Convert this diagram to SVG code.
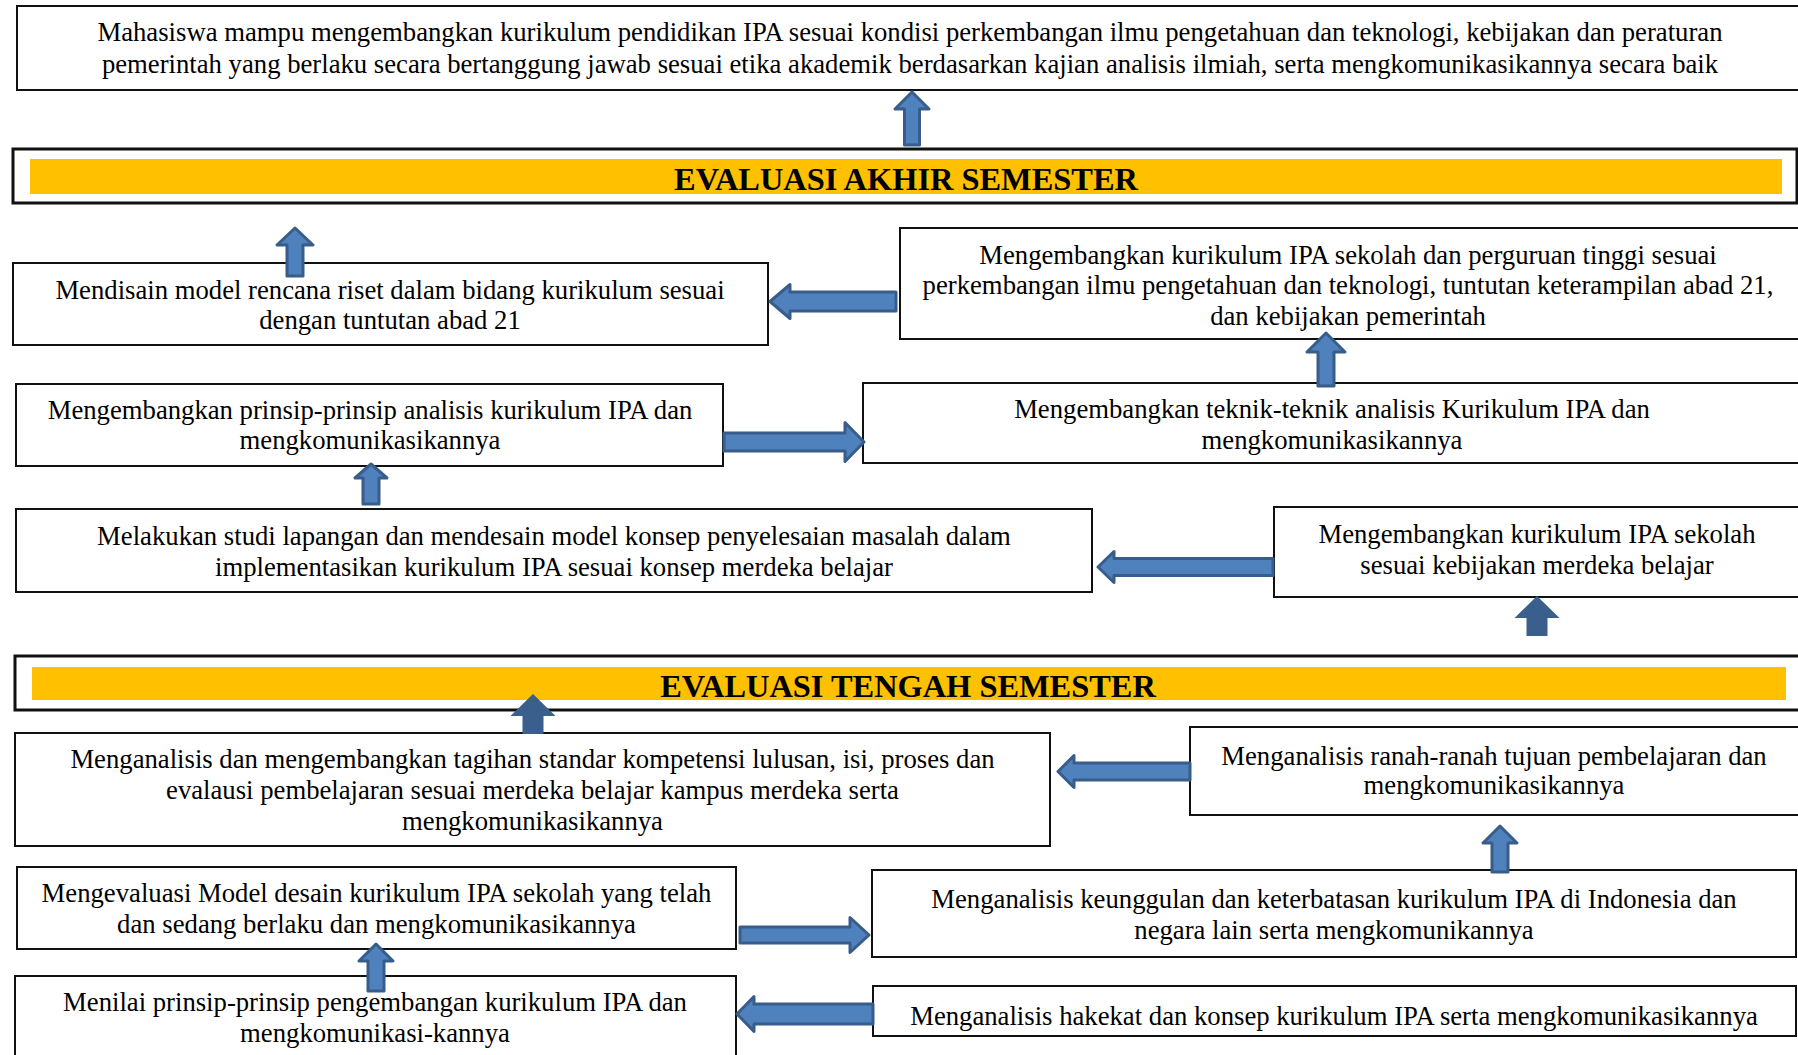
<svg xmlns="http://www.w3.org/2000/svg" width="1798" height="1055" viewBox="0 0 1798 1055">
<style>
.box{fill:#fff;stroke:#111;stroke-width:2}
.ebox{fill:#fff;stroke:#111;stroke-width:3}
.bar{fill:#FFC000}
.t{font-family:"Liberation Serif","Times New Roman",serif;font-size:26.7px;fill:#000;text-anchor:middle}
.h{font-family:"Liberation Serif","Times New Roman",serif;font-size:32.4px;font-weight:bold;fill:#000;text-anchor:middle}
.arr{fill:#4F81BD;stroke:#385D8A;stroke-width:3;stroke-linejoin:round}
.sol{fill:#3A5F8C;stroke:none}
</style>
<rect width="1798" height="1055" fill="#fff"/>

<g id="n-cpl">
<rect class="box" x="17" y="6" width="1800" height="84"/>
<text class="t" x="910" y="40.5">Mahasiswa mampu mengembangkan kurikulum pendidikan IPA sesuai kondisi perkembangan ilmu pengetahuan dan teknologi, kebijakan dan peraturan</text>
<text class="t" x="910" y="72.5">pemerintah yang berlaku secara bertanggung jawab sesuai etika akademik berdasarkan kajian analisis ilmiah, serta mengkomunikasikannya secara baik</text>
</g>

<g id="n-uas">
<rect class="ebox" x="13" y="149" width="1784" height="54"/>
<rect class="bar" x="30" y="159" width="1752" height="35"/>
<text class="h" x="906" y="190">EVALUASI AKHIR SEMESTER</text>
</g>

<g id="n-mendisain">
<rect class="box" x="13" y="263" width="755" height="82"/>
<text class="t" x="390" y="298.5">Mendisain model rencana riset dalam bidang kurikulum sesuai</text>
<text class="t" x="390" y="329">dengan tuntutan abad 21</text>
</g>

<g id="n-kurikulum-pt">
<rect class="box" x="900" y="228" width="920" height="111"/>
<text class="t" x="1348" y="263.5">Mengembangkan kurikulum IPA sekolah dan perguruan tinggi sesuai</text>
<text class="t" x="1348" y="294">perkembangan ilmu pengetahuan dan teknologi, tuntutan keterampilan abad 21,</text>
<text class="t" x="1348" y="324.5">dan kebijakan pemerintah</text>
</g>

<g id="n-prinsip">
<rect class="box" x="16" y="384" width="707" height="82"/>
<text class="t" x="370" y="418.5">Mengembangkan prinsip-prinsip analisis kurikulum IPA dan</text>
<text class="t" x="370" y="449">mengkomunikasikannya</text>
</g>

<g id="n-teknik">
<rect class="box" x="863" y="383" width="960" height="80"/>
<text class="t" x="1332" y="417.5">Mengembangkan teknik-teknik analisis Kurikulum IPA dan</text>
<text class="t" x="1332" y="448.5">mengkomunikasikannya</text>
</g>

<g id="n-studi">
<rect class="box" x="16" y="509" width="1076" height="83"/>
<text class="t" x="554" y="544.5">Melakukan studi lapangan dan mendesain model konsep penyelesaian masalah dalam</text>
<text class="t" x="554" y="575.5">implementasikan kurikulum IPA sesuai konsep merdeka belajar</text>
</g>

<g id="n-merdeka">
<rect class="box" x="1274" y="507" width="540" height="90"/>
<text class="t" x="1537" y="542.5">Mengembangkan kurikulum IPA sekolah</text>
<text class="t" x="1537" y="573.5">sesuai kebijakan merdeka belajar</text>
</g>

<g id="n-uts">
<rect class="ebox" x="15" y="656" width="1800" height="54"/>
<rect class="bar" x="32" y="667" width="1754" height="33"/>
<text class="h" x="908" y="697">EVALUASI TENGAH SEMESTER</text>
</g>

<g id="n-tagihan">
<rect class="box" x="15" y="733" width="1035" height="113"/>
<text class="t" x="532.5" y="767.5">Menganalisis dan mengembangkan tagihan standar kompetensi lulusan, isi, proses dan</text>
<text class="t" x="532.5" y="798.5">evalausi pembelajaran sesuai merdeka belajar kampus merdeka serta</text>
<text class="t" x="532.5" y="829.5">mengkomunikasikannya</text>
</g>

<g id="n-ranah">
<rect class="box" x="1190" y="727" width="630" height="88"/>
<text class="t" x="1494" y="764.5">Menganalisis ranah-ranah tujuan pembelajaran dan</text>
<text class="t" x="1494" y="794">mengkomunikasikannya</text>
</g>

<g id="n-mengevaluasi">
<rect class="box" x="17" y="867" width="719" height="82"/>
<text class="t" x="376.5" y="901.5">Mengevaluasi Model desain kurikulum IPA sekolah yang telah</text>
<text class="t" x="376.5" y="932.5">dan sedang berlaku dan mengkomunikasikannya</text>
</g>

<g id="n-keunggulan">
<rect class="box" x="872" y="870" width="924" height="87"/>
<text class="t" x="1334" y="907.5">Menganalisis keunggulan dan keterbatasan kurikulum IPA di Indonesia dan</text>
<text class="t" x="1334" y="938.5">negara lain serta mengkomunikannya</text>
</g>

<g id="n-menilai">
<rect class="box" x="15" y="976" width="721" height="100"/>
<text class="t" x="375" y="1010.5">Menilai prinsip-prinsip pengembangan kurikulum IPA dan</text>
<text class="t" x="375" y="1041.5">mengkomunikasi-kannya</text>
</g>

<g id="n-hakekat">
<rect class="box" x="873" y="986" width="923" height="50"/>
<text class="t" x="1334" y="1024.5">Menganalisis hakekat dan konsep kurikulum IPA serta mengkomunikasikannya</text>
</g>

<g id="connectors">
<path class="arr" d="M912,92 L929,109 L919.5,109 L919.5,145 L904.5,145 L904.5,109 L895,109 Z"/>
<path class="arr" d="M295,228 L313,245 L303,245 L303,276 L287,276 L287,245 L277,245 Z"/>
<path class="arr" d="M1326,333 L1345,352 L1334,352 L1334,386 L1318,386 L1318,352 L1307,352 Z"/>
<path class="arr" d="M371,464 L387,478 L379,478 L379,504 L363,504 L363,478 L355,478 Z"/>
<path class="arr" d="M1500,826 L1517,843 L1508,843 L1508,872 L1492,872 L1492,843 L1483,843 Z"/>
<path class="arr" d="M376,944 L393,961 L384,961 L384,991 L368,991 L368,961 L359,961 Z"/>
<path class="sol" d="M1537,596 L1559.5,618 L1547.5,618 L1547.5,636 L1526.5,636 L1526.5,618 L1514.5,618 Z"/>
<path class="sol" d="M533,694 L555.5,716 L543.5,716 L543.5,734 L522.5,734 L522.5,716 L510.5,716 Z"/>
<path class="arr" d="M770,301.5 L790,284.5 L790,292 L896,292 L896,311 L790,311 L790,318.5 Z"/>
<path class="arr" d="M1098,567 L1114,551.5 L1114,558.5 L1273,558.5 L1273,575.5 L1114,575.5 L1114,582.5 Z"/>
<path class="arr" d="M1058,771.5 L1074,755.5 L1074,763 L1190,763 L1190,780 L1074,780 L1074,787.5 Z"/>
<path class="arr" d="M737,1014 L754,996.5 L754,1004 L873,1004 L873,1024 L754,1024 L754,1031.5 Z"/>
<path class="arr" d="M724,433 L845,433 L845,422.5 L864,442 L845,461.5 L845,451 L724,451 Z"/>
<path class="arr" d="M740,927 L850,927 L850,917.5 L869,935 L850,952.5 L850,943 L740,943 Z"/>
</g>
</svg>
